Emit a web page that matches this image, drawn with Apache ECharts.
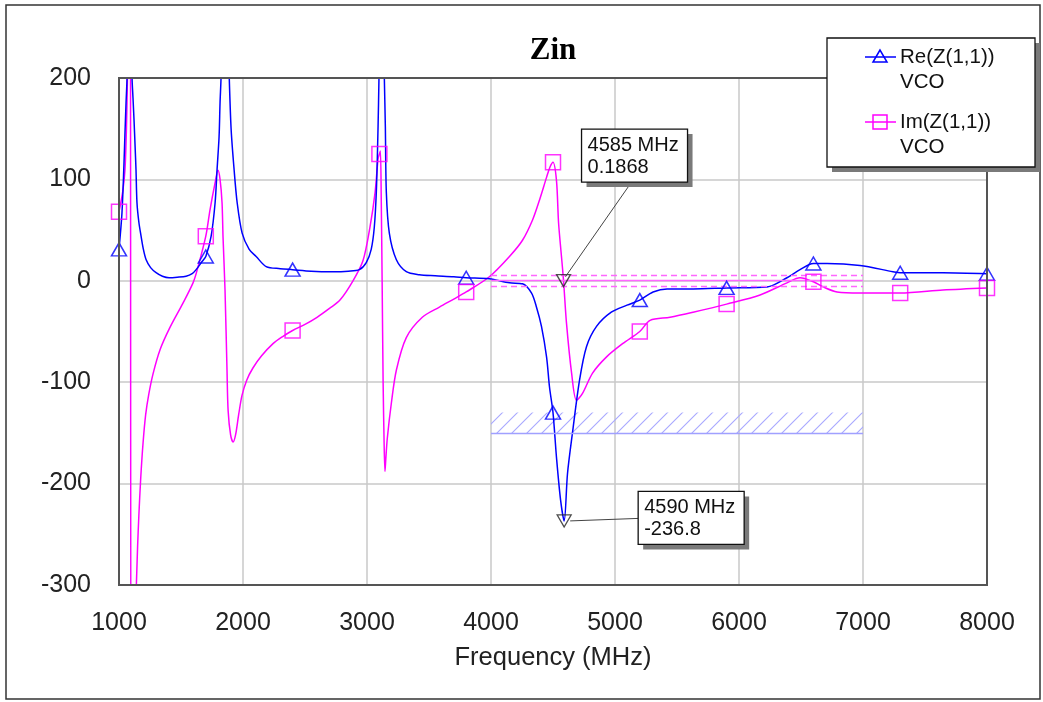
<!DOCTYPE html>
<html><head><meta charset="utf-8">
<script src="https://cdn.jsdelivr.net/npm/echarts@6/dist/echarts.min.js"></script>
<style>html,body{margin:0;padding:0;background:#fff}#c{width:1043px;height:702px}</style>
</head><body><div id="c"></div>
<script>
// ---- data ----
const titleText = 'Zin';
const xAxisName = 'Frequency (MHz)';
const reName = 'Re(Z(1,1))';
const imName = 'Im(Z(1,1))';
const sourceName = 'VCO';

const reFreq = [1000,1024,1040,1048,1057,1065,1075,1085,1095,1105,1113,1121,1130,1137,1145,1160,1178,1195,1218,1255,1299,1350,1404,1470,1541,1590,1622,1670,1700,1743,1775,1791,1807,1815,1823,1835,1855,1872,1888,1904,1928,1953,1993,2050,2106,2187,2300,2400,2550,2720,2850,2938,2994,3034,3059,3075,3085,3093,3100,3110,3120,3132,3140,3148,3156,3180,3236,3317,3422,3550,3700,3800,3987,4149,4254,4326,4367,4407,4448,4472,4500,4528,4561,4590,4617,4657,4714,4770,4851,4970,5097,5200,5307,5420,5630,5900,6226,6387,6492,6600,6710,6976,7242,7300,7645,8000];
const reVal  = [31,67,115,145,176,201,300,420,300,201,180,159,132,110,77,58,44,32,21,13,8,4.5,3,3.5,4.5,7,11,19,24,44,77,110,142,176,201,300,450,280,205,150,110,77,47,31,24,14,12,11,9.5,9,9.5,11,18,31,53,87,130,175,230,380,380,260,199,152,87,47,21,9,6,5,4,3,2,-2,-3,-12,-26,-45,-75,-105,-130,-174,-216,-236.8,-190,-150,-98,-65,-45,-31,-24,-19,-11,-8,-8,-7,-6,3,11,17,17,15,9,8,8,7];

const imFreq = [1000,1030,1048,1060,1068,1080,1090,1098,1110,1130,1140,1150,1160,1175,1194,1215,1240,1274,1331,1411,1516,1597,1629,1700,1734,1774,1798,1815,1831,1839,1855,1871,1880,1900,1920,1940,1965,1992,2030,2080,2150,2242,2320,2400,2500,2597,2700,2782,2887,2968,3024,3065,3089,3100,3108,3115,3122,3130,3138,3145,3152,3164,3196,3237,3317,3446,3584,3700,3800,3987,4149,4254,4335,4392,4448,4475,4500,4528,4545,4569,4585,4609,4650,4690,4738,4819,4932,5061,5200,5283,5444,5630,5900,6170,6387,6492,6600,6678,6791,6976,7300,7645,8000];
const imVal  = [68,88,109,150,200,320,600,-600,-420,-330,-300,-262,-232,-195,-160,-132,-112,-92,-68,-46,-22,-2,10,44,70,96,109,100,77,43,-9,-88,-128,-152,-159,-152,-132,-113,-98,-86,-74,-62,-55,-49,-43,-36,-27,-19,0,20,53,87,120,125,128,80,0,-100,-160,-188,-175,-155,-121,-88,-56,-36,-26,-18,-11,4,24,40,60,80,102,112,117,99,57,23,0.1868,-42,-91,-118,-111,-91,-75,-62,-50,-39,-36,-31,-23,-14,-2,3,-1,-6,-11,-12,-12,-9,-7];

const markerFreqs = [1000,1700,2400,3100,3800,4500,5200,5900,6600,7300,8000];

const annoFreq = [4585, 4590];
const annoVal  = [0.1868, -236.8];
const annoLine1 = ['4585 MHz', '4590 MHz'];
const annoLine2 = ['0.1868', '-236.8'];

const bandFreq = [4000, 7000];
const hatchVal = [-130, -150];
const tolVal = [5, 0.1868, -5];

// ---- chart ----
const FONT = '"Liberation Sans", Arial, sans-serif';
const chart = echarts.init(document.getElementById('c'), null, {renderer:'canvas'});
const pairs = (f, v) => f.map((x, i) => [x, v[i]]);
const lookup = (f, v, x) => v[f.indexOf(x)];

const hatch = document.createElement('canvas');
hatch.width = 15; hatch.height = 15;
(function(){
  const c = hatch.getContext('2d');
  c.strokeStyle = '#a8a8ff'; c.lineWidth = 1.1;
  c.beginPath();
  c.moveTo(0,15); c.lineTo(15,0);
  c.moveTo(-2,2); c.lineTo(2,-2);
  c.moveTo(13,17); c.lineTo(17,13);
  c.stroke();
})();

const tolLines = tolVal.map((v, i) => {
  const ls = {type: i === 1 ? 'solid' : [6,4], color:'#ff66ff', width:1.4};
  return [{coord:[bandFreq[0], v], lineStyle:ls}, {coord:[bandFreq[1], v], lineStyle:ls}];
});

chart.setOption({
  animation:false,
  grid:{left:119, right:56, top:78, bottom:117, show:true, borderColor:'#555', borderWidth:2, backgroundColor:'#fff'},
  xAxis:{type:'value', min:1000, max:8000, interval:1000, name:xAxisName, nameLocation:'middle', nameGap:60,
    nameTextStyle:{fontFamily:FONT, fontSize:25.5, color:'#222'},
    axisLine:{show:true, onZero:false, lineStyle:{color:'#555', width:2}}, axisTick:{show:false},
    axisLabel:{fontFamily:FONT, fontSize:25, color:'#222', margin:26, formatter:v => String(v)},
    splitLine:{show:true, lineStyle:{color:'#c8c8c8', width:1.5}}},
  yAxis:{type:'value', min:-300, max:200, interval:100,
    axisLine:{show:true, onZero:false, lineStyle:{color:'#555', width:2}}, axisTick:{show:false},
    axisLabel:{fontFamily:FONT, fontSize:25, color:'#222', margin:28, formatter:v => String(v)},
    splitLine:{show:true, lineStyle:{color:'#c8c8c8', width:1.5}}},
  series:[
    {name:reName, type:'line', data:pairs(reFreq, reVal), symbol:'none', smooth:0.3, clip:true, z:4,
      lineStyle:{color:'#0000ff', width:1.5},
      markArea:{silent:true, itemStyle:{color:{image:hatch, repeat:'repeat'}, opacity:1, borderWidth:0},
        data:[[{coord:[bandFreq[0], hatchVal[0]]},{coord:[bandFreq[1], hatchVal[1]]}]]},
      markLine:{silent:true, symbol:'none', label:{show:false}, animation:false,
        lineStyle:{color:'#a0a0ff', type:'solid', width:1.3},
        data:[[{coord:[bandFreq[0], hatchVal[1]]},{coord:[bandFreq[1], hatchVal[1]]}]]}
    },
    {name:imName, type:'line', data:pairs(imFreq, imVal), symbol:'none', smooth:0.3, clip:true, z:3,
      lineStyle:{color:'#ff00ff', width:1.5},
      markLine:{silent:true, symbol:'none', label:{show:false}, animation:false, z:5,
        lineStyle:{color:'#ff66ff', type:'dashed', width:1.4}, data:tolLines}
    },
    {type:'scatter', z:5, data:markerFreqs.map(f => [f, lookup(reFreq, reVal, f)]), symbol:'triangle', symbolSize:[15,13],
      itemStyle:{color:'rgba(255,255,255,0)', borderColor:'#0000ff', borderWidth:1.5}, clip:true},
    {type:'scatter', z:5, data:markerFreqs.map(f => [f, lookup(imFreq, imVal, f)]), symbol:'rect', symbolSize:[15,15],
      itemStyle:{color:'rgba(255,255,255,0)', borderColor:'#ff00ff', borderWidth:1.5}, clip:true},
    {type:'scatter', z:6, data:annoFreq.map((f, i) => [f, annoVal[i]]), symbol:'triangle', symbolRotate:180, symbolSize:[14,12],
      itemStyle:{color:'rgba(255,255,255,0)', borderColor:'#222', borderWidth:1.3}}
  ]
});

// ---- overlays positioned from data coordinates ----
const g = [];
g.push({type:'rect', shape:{x:6, y:5, width:1034, height:694}, style:{fill:'none', stroke:'#333', lineWidth:1.5}, z:0, silent:true});

const tl = chart.convertToPixel({gridIndex:0}, [1000, 200]);
const br = chart.convertToPixel({gridIndex:0}, [8000, -300]);
g.push({type:'rect', shape:{x:tl[0], y:tl[1], width:br[0]-tl[0], height:br[1]-tl[1]}, style:{fill:'none', stroke:'#555', lineWidth:2}, z:10, silent:true});

g.push({type:'text', style:{text:titleText, x:(tl[0]+br[0])/2, y:51, fill:'#000',
  font:'bold 31px "Liberation Serif", "Times New Roman", serif', align:'center', verticalAlign:'middle'}, z:10, silent:true});

function shadowBox(x, y, w, h, z) {
  g.push({type:'rect', shape:{x:x+5, y:y+5, width:w, height:h}, style:{fill:'#7a7a7a', stroke:'none'}, z:z, silent:true});
  g.push({type:'rect', shape:{x:x, y:y, width:w, height:h}, style:{fill:'#fff', stroke:'#111', lineWidth:1.3}, z:z+1, silent:true});
}

const boxOff = [[18,-151.5],[74,-29.5]];
const lineEnd = [[50,53],[0,27]];
const lineStartOff = [[2,-4],[6,0]];
annoFreq.forEach((f, i) => {
  const p = chart.convertToPixel({gridIndex:0}, [f, annoVal[i]]);
  const bx = p[0] + boxOff[i][0], by = p[1] + boxOff[i][1];
  g.push({type:'line', shape:{x1:p[0]+lineStartOff[i][0], y1:p[1]+lineStartOff[i][1], x2:bx+lineEnd[i][0], y2:by+lineEnd[i][1]},
    style:{stroke:'#444', lineWidth:1}, z:20, silent:true});
  shadowBox(bx, by, 106, 53, 21);
  g.push({type:'text', style:{text:annoLine1[i], x:bx+6, y:by+16, fill:'#111', font:'20px ' + FONT, align:'left', verticalAlign:'middle'}, z:23, silent:true});
  g.push({type:'text', style:{text:annoLine2[i], x:bx+6, y:by+38, fill:'#111', font:'20px ' + FONT, align:'left', verticalAlign:'middle'}, z:23, silent:true});
});

shadowBox(827, 38, 208, 129, 30);
const legItems = [
  {y:57, color:'#0000ff', name:reName, sym:'tri'},
  {y:122, color:'#ff00ff', name:imName, sym:'rect'}
];
legItems.forEach(it => {
  g.push({type:'line', shape:{x1:865, y1:it.y, x2:896, y2:it.y}, style:{stroke:it.color, lineWidth:1.5}, z:33, silent:true});
  if (it.sym === 'tri') {
    g.push({type:'polygon', shape:{points:[[880,it.y-7],[873,it.y+5],[887,it.y+5]]}, style:{fill:'none', stroke:it.color, lineWidth:1.5}, z:33, silent:true});
  } else {
    g.push({type:'rect', shape:{x:873, y:it.y-7, width:14, height:14}, style:{fill:'none', stroke:it.color, lineWidth:1.5}, z:33, silent:true});
  }
  g.push({type:'text', style:{text:it.name, x:900, y:it.y, fill:'#111', font:'20.5px ' + FONT, align:'left', verticalAlign:'middle'}, z:34, silent:true});
  g.push({type:'text', style:{text:sourceName, x:900, y:it.y+25, fill:'#111', font:'20.5px ' + FONT, align:'left', verticalAlign:'middle'}, z:34, silent:true});
});

chart.setOption({graphic:{elements:g}});
</script>
</body></html>
